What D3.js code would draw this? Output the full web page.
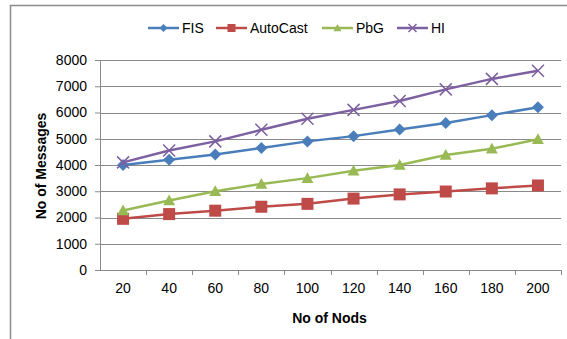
<!DOCTYPE html>
<html>
<head>
<meta charset="utf-8">
<script src="https://cdn.jsdelivr.net/npm/d3@7"></script>
<style>
  body { margin: 0; background: #fff; }
  svg { font-family: "Liberation Sans", Arial, sans-serif; }
</style>
</head>
<body>
<div id="chart"></div>
<script>
const nodes = [20, 40, 60, 80, 100, 120, 140, 160, 180, 200];
const fis = [4000, 4200, 4400, 4650, 4900, 5100, 5350, 5600, 5900, 6200];
const autoCast = [1950, 2130, 2260, 2410, 2520, 2720, 2880, 2990, 3110, 3220];
const pbg = [2270, 2650, 3000, 3280, 3500, 3780, 4000, 4380, 4620, 4980];
const hi = [4100, 4550, 4900, 5340, 5760, 6100, 6440, 6880, 7280, 7590];
const yTicks = [0, 1000, 2000, 3000, 4000, 5000, 6000, 7000, 8000];

const series = [
  { name: 'FIS', values: fis, color: '#4A7EBB', marker: 'diamond' },
  { name: 'AutoCast', values: autoCast, color: '#BE4B48', marker: 'square' },
  { name: 'PbG', values: pbg, color: '#98B954', marker: 'triangle' },
  { name: 'HI', values: hi, color: '#7D60A0', marker: 'cross' }
];

const W = 567, H = 339;
const margin = { top: 60, right: 6, bottom: 69, left: 100 };
const width = W - margin.left - margin.right,
  height = H - margin.top - margin.bottom;

const svg = d3.select('#chart')
  .append('svg')
  .attr('width', W)
  .attr('height', H);

// outer frame (cropped on right and bottom)
svg.append('path')
  .attr('d', `M10.5,${H} V5.5 H${W}`)
  .attr('fill', 'none')
  .attr('stroke', '#8c8c8c')
  .attr('stroke-width', 1.5);

const g = svg.append('g')
  .attr('transform', `translate(${margin.left}, ${margin.top})`);

const x = d3.scaleBand().domain(nodes).range([0, width]);
const y = d3.scaleLinear().domain([0, 8000]).range([height, 0]);

// grid
g.selectAll('.grid')
  .data(yTicks.slice(1))
  .join('line')
  .attr('x1', 0)
  .attr('x2', width)
  .attr('y1', d => Math.round(y(d)) + 0.5)
  .attr('y2', d => Math.round(y(d)) + 0.5)
  .attr('stroke', '#8a8a8a')
  .attr('stroke-width', 1);

// y axis
const yAxis = g.append('g')
  .call(d3.axisLeft(y).tickValues(yTicks).tickFormat(d3.format('d')).tickSize(5).tickPadding(8));
yAxis.select('.domain').attr('stroke', '#8a8a8a');
yAxis.selectAll('.tick line').attr('stroke', '#8a8a8a');
yAxis.selectAll('text')
  .style('font-size', '14px')
  .attr('fill', '#000');

// x axis
const xAxis = g.append('g')
  .attr('transform', `translate(0, ${height})`)
  .call(d3.axisBottom(x).tickSize(0).tickPadding(13));
xAxis.select('.domain').attr('stroke', '#8a8a8a').attr('d', `M0,0.5H${width}`);
xAxis.selectAll('text')
  .style('font-size', '14px')
  .attr('fill', '#000');

// band boundary ticks
g.selectAll('.xtick')
  .data(nodes)
  .join('line')
  .attr('x1', d => Math.round(x(d) + x.bandwidth()) + 0.5)
  .attr('x2', d => Math.round(x(d) + x.bandwidth()) + 0.5)
  .attr('y1', height)
  .attr('y2', height + 5)
  .attr('stroke', '#8a8a8a');

// axis titles
svg.append('text')
  .attr('x', margin.left + width / 2 - 1)
  .attr('y', 323)
  .attr('text-anchor', 'middle')
  .style('font-size', '14px')
  .style('font-weight', 'bold')
  .text('No of Nods');

svg.append('text')
  .attr('transform', `translate(46, 166) rotate(-90)`)
  .attr('text-anchor', 'middle')
  .style('font-size', '14px')
  .style('font-weight', 'bold')
  .text('No of Messages');

function drawMarker(sel, type, color, s) {
  if (type === 'diamond') {
    sel.append('path')
      .attr('d', `M0,${-s}L${s},0L0,${s}L${-s},0Z`)
      .attr('fill', color);
  } else if (type === 'square') {
    sel.append('rect')
      .attr('x', -s).attr('y', -s)
      .attr('width', s * 2).attr('height', s * 2)
      .attr('fill', color);
  } else if (type === 'triangle') {
    sel.append('path')
      .attr('d', `M0,${-s}L${s},${s * 0.8}L${-s},${s * 0.8}Z`)
      .attr('fill', color);
  } else {
    sel.append('path')
      .attr('d', `M${-s},${-s}L${s},${s}M${-s},${s}L${s},${-s}`)
      .attr('stroke', color)
      .attr('stroke-width', 1.5)
      .attr('fill', 'none');
  }
}

const line = d3.line()
  .x((d, i) => x(nodes[i]) + x.bandwidth() / 2)
  .y(d => y(d));

series.forEach(s => {
  g.append('path')
    .datum(s.values)
    .attr('d', line)
    .attr('fill', 'none')
    .attr('stroke', s.color)
    .attr('stroke-width', 2.5);

  g.selectAll(null)
    .data(s.values)
    .join('g')
    .attr('transform', (d, i) => `translate(${x(nodes[i]) + x.bandwidth() / 2}, ${y(d)})`)
    .each(function () { drawMarker(d3.select(this), s.marker, s.color, 6); });
});

// legend
const legendX = [148, 216, 322, 397];
const legend = svg.append('g').attr('transform', 'translate(0, 28)');
series.forEach((s, i) => {
  const lg = legend.append('g').attr('transform', `translate(${legendX[i]}, 0)`);
  lg.append('line')
    .attr('x1', 0).attr('x2', 31)
    .attr('stroke', s.color)
    .attr('stroke-width', 2.5);
  const m = lg.append('g').attr('transform', 'translate(15.5, 0)');
  drawMarker(m, s.marker, s.color, 4);
  lg.append('text')
    .attr('x', 34)
    .attr('y', 5)
    .style('font-size', '14px')
    .text(s.name);
});
</script>
</body>
</html>
